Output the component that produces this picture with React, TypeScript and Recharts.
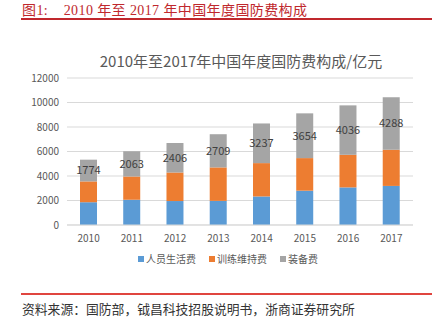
import React from "react";
import { BarChart, Bar, XAxis, YAxis, CartesianGrid, Legend, LabelList } from "recharts";

const years = ["2010", "2011", "2012", "2013", "2014", "2015", "2016", "2017"];
const personnel = [1859, 2070, 1956, 1970, 2330, 2800, 3070, 3190];
const training = [1700, 1895, 2330, 2732, 2722, 2661, 2660, 2954];
const equipment = [1774, 2063, 2406, 2709, 3237, 3654, 4036, 4288];
const yTicks = [0, 2000, 4000, 6000, 8000, 10000, 12000];

const seriesNames = ["人员生活费", "训练维持费", "装备费"];
const colors = ["#5b9bd5", "#ed7d31", "#a5a5a5"];

const data = years.map((y, i) => ({
  year: y,
  p: personnel[i],
  t: training[i],
  e: equipment[i],
}));

const FONT = '"Noto Sans CJK SC", "Noto Sans", sans-serif';

const LegendContent = () => (
  <div style={{ display: "flex", justifyContent: "center", fontSize: 10, color: "#595959", fontFamily: FONT, lineHeight: "14px" }}>
    {seriesNames.map((n, i) => (
      <div key={n} style={{ display: "flex", alignItems: "center", marginRight: i < 2 ? 13 : 0 }}>
        <span style={{ display: "inline-block", width: 6, height: 6, background: colors[i], marginRight: 2 }} />
        <span>{n}</span>
      </div>
    ))}
  </div>
);

export default function App() {
  return (
    <div style={{ position: "absolute", left: 0, top: 0, width: 444, height: 325, background: "#fff", fontFamily: FONT }}>
      <div style={{ position: "absolute", left: 22, top: -1, fontSize: 14, color: "#c0282d", whiteSpace: "pre", letterSpacing: 0.4, fontFamily: '"Liberation Serif", "Noto Sans CJK SC", serif' }}>
        {"图1:    2010 年至 2017 年中国年度国防费构成"}
      </div>
      <div style={{ position: "absolute", left: 21, top: 18, width: 411, height: 1.5, background: "#c0282d" }} />
      <div style={{ position: "absolute", left: 0, width: 482, top: 50, textAlign: "center", fontSize: 15, color: "#595959", whiteSpace: "nowrap" }}>
        2010年至2017年中国年度国防费构成/亿元
      </div>
      <div style={{ position: "absolute", left: 0, top: 0 }}>
        <BarChart width={444} height={325} data={data} margin={{ top: 78, right: 31, bottom: 70, left: 7 }} barCategoryGap="30%">
          <CartesianGrid vertical={false} stroke="#d9d9d9" />
          <XAxis dataKey="year" tickLine={false} axisLine={{ stroke: "#d9d9d9" }} tick={{ fontSize: 10, fill: "#595959", fontFamily: FONT }} tickMargin={4} height={30} />
          <YAxis domain={[0, 12000]} ticks={yTicks} tickLine={false} axisLine={false} tick={{ fontSize: 10, fill: "#595959", fontFamily: FONT }} width={60} interval={0} />
          <Legend
            verticalAlign="middle"
            align="center"
            content={<LegendContent />}
            wrapperStyle={{ top: 252, left: 12, width: 432 }}
          />
          <Bar dataKey="p" name={seriesNames[0]} stackId="a" fill={colors[0]} isAnimationActive={false} />
          <Bar dataKey="t" name={seriesNames[1]} stackId="a" fill={colors[1]} isAnimationActive={false} />
          <Bar dataKey="e" name={seriesNames[2]} stackId="a" fill={colors[2]} isAnimationActive={false}>
            <LabelList dataKey="e" position="center" style={{ fontSize: 11, fill: "#404040", fontFamily: FONT }} />
          </Bar>
        </BarChart>
      </div>
      <div style={{ position: "absolute", left: 21, top: 293, width: 411, height: 1.5, background: "#e0453f" }} />
      <div style={{ position: "absolute", left: 22, top: 299, fontSize: 12.8, color: "#333", whiteSpace: "nowrap" }}>
        资料来源：国防部，钺昌科技招股说明书，浙商证券研究所
      </div>
    </div>
  );
}
